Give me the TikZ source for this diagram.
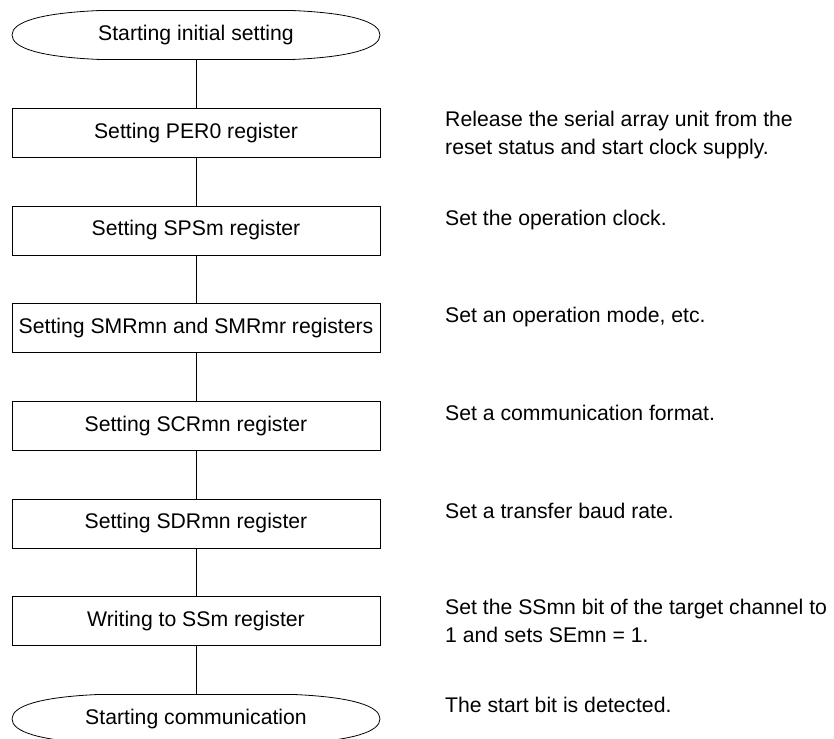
\documentclass[tikz,border=0pt]{standalone}
\usepackage{fontspec}
\setmainfont{Liberation Sans}
\begin{document}
\begin{tikzpicture}[x=1pt,y=-1pt,
  every node/.style={font=\fontsize{21.2}{25}\selectfont, inner sep=0pt},
  stepbox/.style={draw, line width=0.8pt, minimum width=368pt, minimum height=49pt},
  termnode/.style={minimum width=368pt, minimum height=50pt},
  link/.style={line width=0.8pt},
  note/.style={anchor=base west}]
\useasboundingbox (0,0) rectangle (834,738);
\node[termnode] (t0) at (196,35) {Starting initial setting};
\node[stepbox] (b1) at (196,132.7) {Setting PER0 register};
\node[stepbox] (b2) at (196,230.4) {Setting SPSm register};
\node[stepbox] (b3) at (196,328.1) {Setting SMRmn and SMRmr registers};
\node[stepbox] (b4) at (196,425.8) {Setting SCRmn register};
\node[stepbox] (b5) at (196,523.5) {Setting SDRmn register};
\node[stepbox] (b6) at (196,621.2) {Writing to SSm register};
\node[termnode] (t7) at (196,718.9) {Starting communication};
\foreach \n in {t0,t7}{
  \draw[link] ([shift={(-184,0)}]\n.center)
    .. controls ([shift={(-184,-13)}]\n.center) and ([shift={(-156,-22)}]\n.center) .. ([shift={(-96,-24.5)}]\n.center)
    -- ([shift={(96,-24.5)}]\n.center)
    .. controls ([shift={(156,-22)}]\n.center) and ([shift={(184,-13)}]\n.center) .. ([shift={(184,0)}]\n.center)
    .. controls ([shift={(184,13)}]\n.center) and ([shift={(156,22)}]\n.center) .. ([shift={(96,24.5)}]\n.center)
    -- ([shift={(-96,24.5)}]\n.center)
    .. controls ([shift={(-156,22)}]\n.center) and ([shift={(-184,13)}]\n.center) .. cycle;
}
\draw[link] (t0.south) -- (b1.north);
\draw[link] (b1) -- (b2);
\draw[link] (b2) -- (b3);
\draw[link] (b3) -- (b4);
\draw[link] (b4) -- (b5);
\draw[link] (b5) -- (b6);
\draw[link] (b6.south) -- (t7.north);
\node[note] (d1a) at (445,127) {Release the serial array unit from the};
\node[note] (d1b) at (445,155) {reset status and start clock supply.};
\node[note] (d2) at (445,225) {Set the operation clock.};
\node[note] (d3) at (445,322.6) {Set an operation mode, etc.};
\node[note] (d4) at (445,420.3) {Set a communication format.};
\node[note] (d5) at (445,518) {Set a transfer baud rate.};
\node[note] (d6a) at (445,614.5) {Set the SSmn bit of the target channel to};
\node[note] (d6b) at (445,642.5) {1 and sets SEmn = 1.};
\node[note] (d7) at (445,712) {The start bit is detected.};
\end{tikzpicture}
\end{document}
